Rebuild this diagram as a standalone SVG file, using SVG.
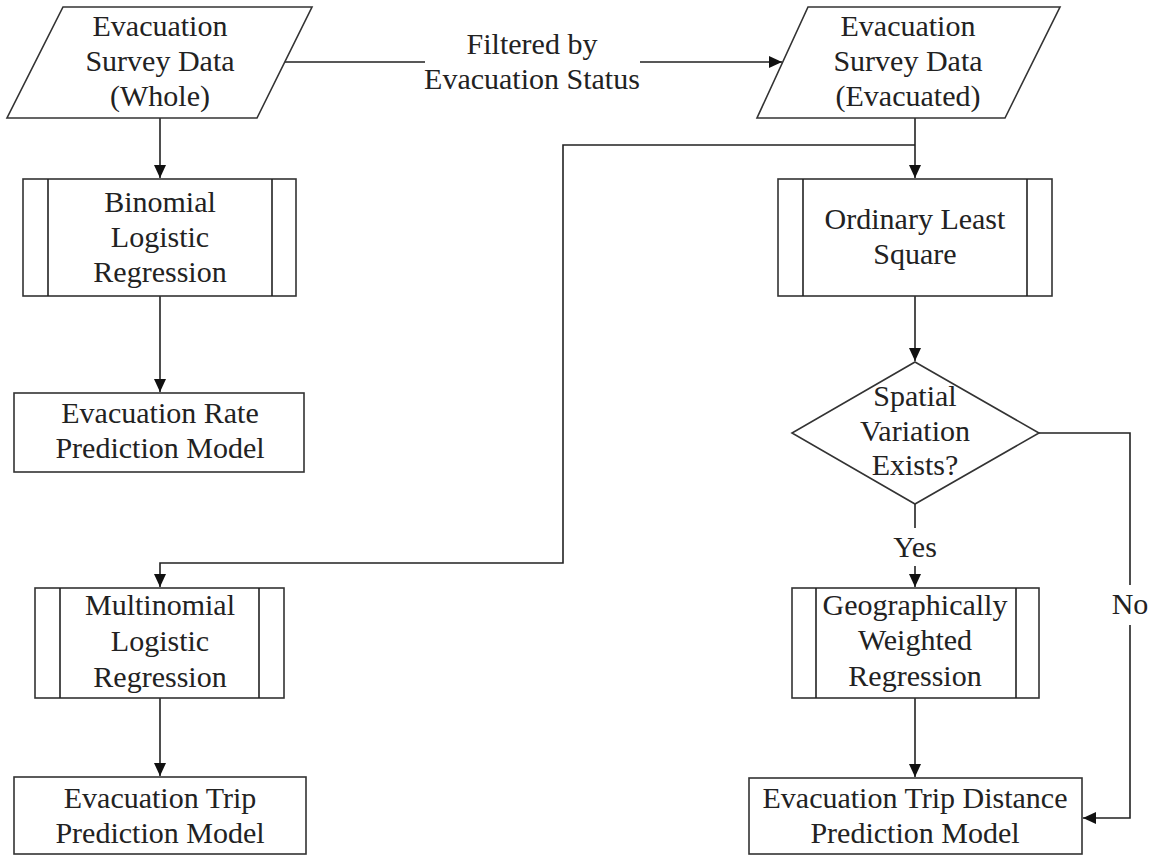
<svg xmlns="http://www.w3.org/2000/svg" width="1155" height="857" viewBox="0 0 1155 857">
<defs>
<style>
.shape{fill:#fff;stroke:#333;stroke-width:1.6}
.line{fill:none;stroke:#222;stroke-width:1.6}
text{font-family:"Liberation Serif","Times New Roman",serif;font-size:30px;fill:#222;text-anchor:middle}
</style>
<marker id="arr" markerUnits="userSpaceOnUse" markerWidth="14" markerHeight="12" refX="13" refY="6" orient="auto">
<path d="M0,0 L13,6 L0,12 Z" fill="#111"/>
</marker>
</defs>
<rect width="1155" height="857" fill="#fff"/>
<g id="connectors">
<path class="line" d="M285,62 H425 M640,62 H782" marker-end="url(#arr)"/>
<path class="line" d="M160,118 V178" marker-end="url(#arr)"/>
<path class="line" d="M160,296 V392" marker-end="url(#arr)"/>
<path class="line" d="M915,118 V178" marker-end="url(#arr)"/>
<path class="line" d="M915,145 H563 V563 H160 V587" marker-end="url(#arr)"/>
<path class="line" d="M160,698 V776" marker-end="url(#arr)"/>
<path class="line" d="M915,296 V361" marker-end="url(#arr)"/>
<path class="line" d="M915,504 V528 M915,566 V587" marker-end="url(#arr)"/>
<path class="line" d="M915,698 V777" marker-end="url(#arr)"/>
<path class="line" d="M1039,433 H1130 V585 M1130,625 V818 H1083" marker-end="url(#arr)"/>
<text x="532" y="54">Filtered by</text>
<text x="532" y="89">Evacuation Status</text>
<text x="915" y="557">Yes</text>
<text x="1130" y="614">No</text>
</g>
<g id="survey-whole">
<polygon class="shape" points="63,7 312,7 257,118 7,118"/>
<text x="160" y="36">Evacuation</text>
<text x="160" y="71">Survey Data</text>
<text x="160" y="106">(Whole)</text>
</g>
<g id="survey-evacuated">
<polygon class="shape" points="808,7 1060,7 1005,118 757,118"/>
<text x="908" y="36">Evacuation</text>
<text x="908" y="71">Survey Data</text>
<text x="908" y="106">(Evacuated)</text>
</g>
<g id="binomial">
<rect class="shape" x="23" y="179" width="273" height="117"/>
<path class="line" d="M48,179 V296 M272,179 V296"/>
<text x="160" y="212">Binomial</text>
<text x="160" y="247">Logistic</text>
<text x="160" y="282">Regression</text>
</g>
<g id="rate-model">
<rect class="shape" x="14" y="393" width="290" height="79"/>
<text x="160" y="423">Evacuation Rate</text>
<text x="160" y="458">Prediction Model</text>
</g>
<g id="ols">
<rect class="shape" x="778" y="179" width="274" height="117"/>
<path class="line" d="M803,179 V296 M1027,179 V296"/>
<text x="915" y="229">Ordinary Least</text>
<text x="915" y="264">Square</text>
</g>
<g id="spatial">
<polygon class="shape" points="915,362 1039,433 915,504 792,433"/>
<text x="915" y="406">Spatial</text>
<text x="915" y="441">Variation</text>
<text x="915" y="475">Exists?</text>
</g>
<g id="multinomial">
<rect class="shape" x="35" y="588" width="249" height="110"/>
<path class="line" d="M60,588 V698 M259,588 V698"/>
<text x="160" y="615">Multinomial</text>
<text x="160" y="651">Logistic</text>
<text x="160" y="687">Regression</text>
</g>
<g id="trip-model">
<rect class="shape" x="14" y="777" width="292" height="77"/>
<text x="160" y="808">Evacuation Trip</text>
<text x="160" y="843">Prediction Model</text>
</g>
<g id="gwr">
<rect class="shape" x="792" y="588" width="247" height="110"/>
<path class="line" d="M816,588 V698 M1016,588 V698"/>
<text x="915" y="615">Geographically</text>
<text x="915" y="650">Weighted</text>
<text x="915" y="686">Regression</text>
</g>
<g id="distance-model">
<rect class="shape" x="749" y="778" width="333" height="76"/>
<text x="915" y="808">Evacuation Trip Distance</text>
<text x="915" y="843">Prediction Model</text>
</g>
</svg>
